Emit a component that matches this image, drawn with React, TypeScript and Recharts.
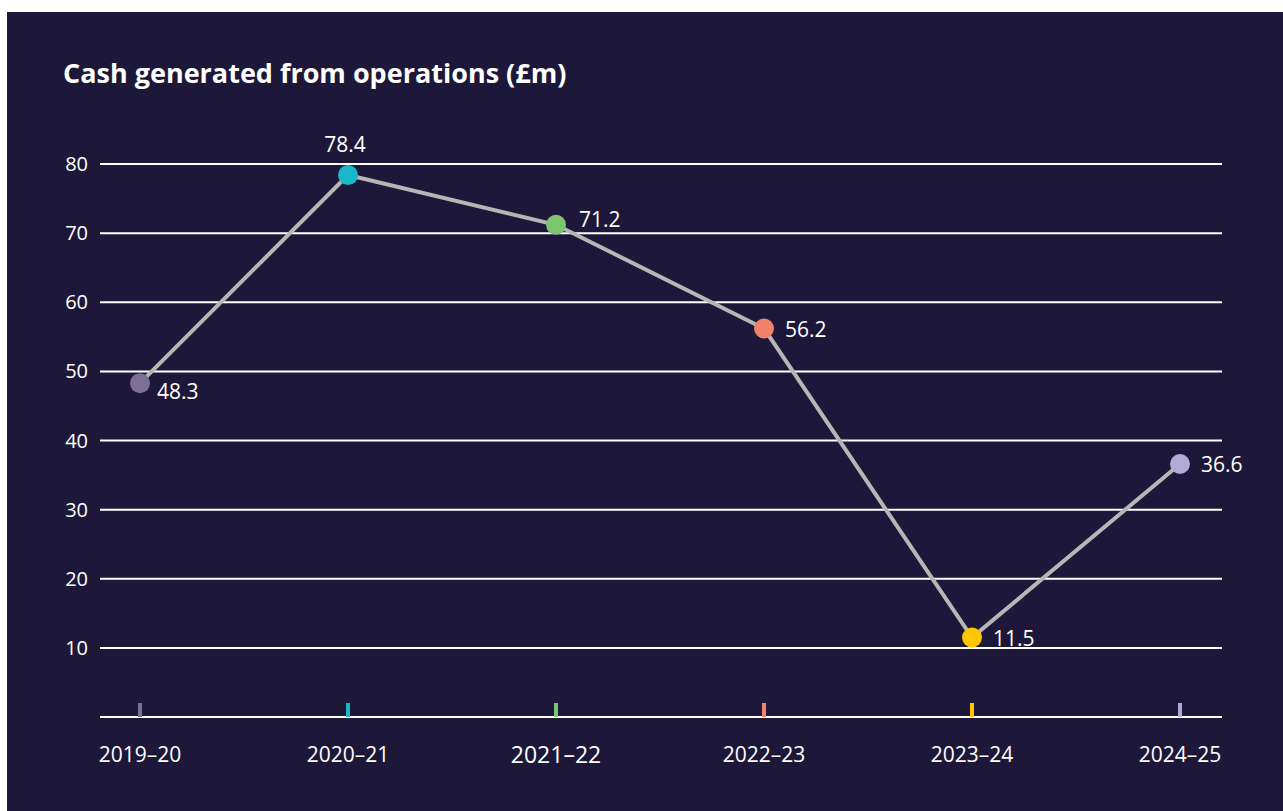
import { LineChart, Line, XAxis, YAxis, CartesianGrid, LabelList } from 'recharts'

const YEARS = ['2019–20', '2020–21', '2021–22', '2022–23', '2023–24', '2024–25']
const CASH = [48.3, 78.4, 71.2, 56.2, 11.5, 36.6]
const POINT_COLORS = ['#7d7095', '#1ab7c8', '#7dc46e', '#f0826a', '#ffc600', '#b2a9d6']
// where each value label sits next to its dot
const LABEL_SPOTS = ['below-right', 'above', 'upper-right', 'right', 'right', 'right']
const Y_TICKS = [10, 20, 30, 40, 50, 60, 70, 80]

const data = YEARS.map((year, i) => ({ year, cash: CASH[i] }))

const BG = '#1d1839'
const FONT = '"Open Sans", "Noto Sans", sans-serif'
const TICK_GAP = 30

function PointDot(props: any) {
  const { cx, cy, index } = props
  if (cx == null || cy == null) return null
  return <circle cx={cx} cy={cy} r={10} fill={POINT_COLORS[index]} />
}

function PointLabel(props: any) {
  const { x, y, value, index } = props
  const spot = LABEL_SPOTS[index]
  const common = { fill: '#fff', fontSize: 21, dominantBaseline: 'central' as const }
  if (spot === 'above') {
    return (
      <text x={x - 3} y={y - 31} textAnchor="middle" {...common}>
        {value}
      </text>
    )
  }
  if (spot === 'below-right') {
    return (
      <text x={x + 17} y={y + 8} textAnchor="start" {...common}>
        {value}
      </text>
    )
  }
  if (spot === 'upper-right') {
    return (
      <text x={x + 23} y={y - 6} textAnchor="start" {...common}>
        {value}
      </text>
    )
  }
  return (
    <text x={x + 21} y={y} textAnchor="start" {...common}>
      {value}
    </text>
  )
}

function YearTick(props: any) {
  const { x, y, payload, index } = props
  return (
    <g>
      <rect x={x - 2} y={y - TICK_GAP - 14} width={4} height={14} fill={POINT_COLORS[index]} />
      <text x={x} y={y} dy="0.71em" textAnchor="middle" fill="#fff" fontSize={index === 2 ? 23 : 21}>
        {payload.value}
      </text>
    </g>
  )
}

export default function App() {
  return (
    <div
      style={{
        position: 'fixed',
        left: 7,
        top: 12,
        width: 1276,
        height: 799,
        background: BG,
        fontFamily: FONT,
        color: '#fff',
      }}
    >
      <div
        style={{
          position: 'absolute',
          left: 56,
          top: 45,
          fontSize: 27,
          fontWeight: 700,
          lineHeight: '32px',
          whiteSpace: 'nowrap',
        }}
      >
        Cash generated from operations (£m)
      </div>
      <LineChart
        width={1276}
        height={799}
        data={data}
        margin={{ top: 152, right: 61, bottom: 64, left: 33 }}
      >
        <CartesianGrid horizontal vertical={false} stroke="#ffffff" strokeWidth={2} />
        <XAxis
          dataKey="year"
          padding={{ left: 40, right: 42 }}
          axisLine={{ stroke: '#ffffff', strokeWidth: 2 }}
          tickLine={false}
          tickSize={0}
          tickMargin={TICK_GAP}
          height={30}
          tick={<YearTick />}
          interval={0}
        />
        <YAxis
          type="number"
          domain={[0, 80]}
          ticks={Y_TICKS}
          axisLine={false}
          tickLine={false}
          tickMargin={6}
          width={60}
          tick={{ fill: '#ffffff', fontSize: 20 }}
        />
        <Line
          type="linear"
          dataKey="cash"
          stroke="#b6b6b6"
          strokeWidth={4}
          dot={(p: any) => <PointDot key={p.index} {...p} />}
          activeDot={false}
          isAnimationActive={false}
        >
          <LabelList dataKey="cash" content={<PointLabel />} />
        </Line>
      </LineChart>
    </div>
  )
}
